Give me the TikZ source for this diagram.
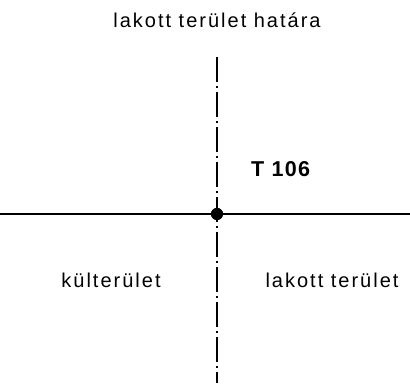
\documentclass[tikz,border=0pt]{standalone}
\usepackage{fontspec}
\setmainfont{Liberation Sans}
\newfontfamily\lblfont[LetterSpace=10]{Liberation Sans}
\newfontfamily\tlblfont[LetterSpace=6]{Liberation Sans}
\tikzset{
  lbl/.style={inner sep=0pt, anchor=base, font=\lblfont\fontsize{20pt}{22pt}\selectfont},
  tlbl/.style={inner sep=0pt, anchor=base west, font=\tlblfont\fontsize{21.5pt}{24pt}\selectfont\bfseries},
  axis/.style={line width=1.8pt},
  border/.style={line width=1.5pt, dash pattern=on 25pt off 4pt on 2pt off 4pt},
  pt/.style={circle, fill=black, inner sep=0pt, minimum size=12pt}
}
\begin{document}
\begin{tikzpicture}[x=1pt,y=1pt]
\useasboundingbox (0,0) rectangle (410,385);
\coordinate (L) at (0,171);
\coordinate (R) at (410,171);
\coordinate (top) at (217,328);
\coordinate (bot) at (217,2);
\node[pt] (p) at (217,171) {};
\draw[border] (top) -- (bot);
\draw[axis] (L) -- (R);
\node[pt] at (p) {};
\node[lbl] (t1) at (217,357) {lakott terület határa};
\node[tlbl] (t2) at (251,208) {T 106};
\node[lbl] (t3) at (111,97) {külterület};
\node[lbl] (t4) at (332,97) {lakott terület};
\end{tikzpicture}
\end{document}
